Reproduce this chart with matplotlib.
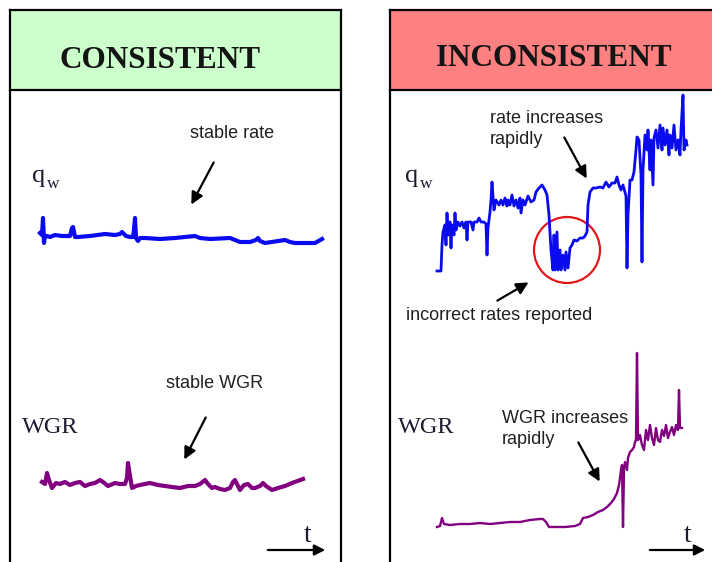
import matplotlib
matplotlib.use('Agg')
import matplotlib.pyplot as plt
from matplotlib.patches import Rectangle, Circle

# ---- data (time index, relative value) ----
# consistent well
cons_qw_t = [0, 2, 3, 4, 5, 7, 10, 15, 22, 30, 32, 33, 35, 38, 50, 65, 75, 80, 82, 86,
             90, 93, 94, 95, 96, 98, 100, 105, 120, 135, 155, 160, 170, 190, 200, 210, 216, 218, 220, 225,
             245, 250, 255, 275, 282]
cons_qw = [17, 15, 32, 7, 14, 14, 13, 15, 14, 14, 22, 23, 13, 13, 14, 16, 15, 16, 18, 14,
           13, 13, 20, 32, 12, 9, 12, 12, 11, 12, 14, 12, 11, 12, 8, 8, 10, 12, 9, 7,
           10, 8, 7, 7, 11]

cons_wgr_t = [0, 3, 5, 7, 10, 14, 18, 23, 28, 33, 38, 43, 48, 53, 58, 61, 66, 73, 78, 83,
              85, 86, 87, 90, 94, 98, 108, 116, 123, 130, 138, 146, 153, 158, 163, 166, 170, 173, 178, 183,
              188, 191, 193, 196, 198, 202, 206, 210, 213, 218, 221, 224, 230, 236, 243, 250, 261]
cons_wgr = [18, 16, 27, 20, 12, 17, 16, 18, 15, 17, 18, 14, 16, 17, 20, 18, 14, 17, 16, 16,
            22, 37, 30, 12, 14, 15, 17, 15, 14, 13, 12, 14, 14, 16, 20, 16, 12, 13, 11, 10,
            12, 18, 20, 14, 10, 15, 16, 12, 12, 14, 17, 14, 10, 12, 14, 17, 21]

# inconsistent well
inc_qw_t = [0, 4, 5, 6, 8, 9, 10, 11, 13, 14, 15, 17, 18, 19, 21, 23, 25, 27, 29, 30,
            31, 34, 36, 37, 40, 42, 44, 47, 49, 50, 51, 53, 54, 55, 57, 59, 62, 64, 66, 68,
            70, 71, 73, 75, 77, 79, 81, 83, 84, 86, 88, 91, 94, 97, 99, 102, 105, 108, 110, 112,
            114, 116, 117, 118, 120, 121, 123, 124, 126, 128, 129, 131, 133, 135, 137, 140, 143, 146, 148, 150,
            151, 153, 156, 159, 163, 166, 169, 172, 175, 178, 180, 182, 184, 186, 189, 190, 191, 193, 195, 197,
            199, 200, 202, 204, 205, 206, 208, 210, 211, 213, 214, 216, 217, 219, 221, 223, 225, 226, 228, 230,
            232, 233, 235, 237, 239, 241, 243, 244, 246, 247, 249, 250]
inc_qw = [9, 9, 35, 48, 55, 35, 67, 45, 58, 32, 55, 45, 67, 50, 58, 54, 58, 52, 58, 40,
          58, 58, 50, 58, 58, 62, 58, 58, 56, 25, 52, 68, 80, 98, 70, 80, 75, 80, 75, 82,
          74, 80, 75, 85, 74, 80, 72, 82, 67, 80, 75, 84, 78, 80, 88, 92, 95, 90, 85, 65,
          30, 10, 45, 10, 48, 10, 30, 10, 25, 10, 28, 12, 32, 35, 40, 39, 42, 42, 44, 48,
          75, 88, 92, 92, 93, 92, 98, 93, 97, 97, 103, 95, 90, 95, 84, 12, 65, 100, 100, 108,
          130, 143, 140, 105, 18, 110, 145, 130, 150, 110, 140, 95, 142, 150, 132, 155, 130, 152, 135, 150,
          125, 145, 132, 155, 130, 140, 125, 150, 185, 130, 140, 135]

inc_wgr_t = [0, 3, 5, 7, 13, 23, 33, 43, 53, 63, 73, 83, 93, 103, 106, 109, 112, 118, 128, 138,
             143, 146, 151, 156, 161, 166, 170, 174, 177, 180, 182, 183, 184, 185, 186, 187, 188, 190, 191, 193,
             195, 197, 198, 199, 200, 201, 203, 205, 207, 209, 211, 213, 215, 217, 219, 221, 223, 225, 227, 229,
             231, 233, 235, 237, 239, 241, 242, 243, 245]
inc_wgr = [3, 4, 12, 6, 5, 6, 6, 7, 6, 7, 8, 8, 10, 11, 11, 8, 3, 3, 3, 4,
           6, 12, 13, 15, 18, 20, 23, 27, 31, 37, 45, 52, 60, 65, 3, 62, 68, 60, 72, 78,
           80, 83, 88, 90, 177, 90, 95, 85, 80, 100, 90, 105, 92, 85, 102, 90, 88, 100, 94, 105,
           92, 98, 103, 95, 105, 100, 140, 102, 102]

W, H = 712, 562
fig = plt.figure(figsize=(W / 100, H / 100), dpi=100)

# background axes in pixel units for the panel layout
bg = fig.add_axes([0, 0, 1, 1])
bg.set_xlim(0, W)
bg.set_ylim(H, 0)
bg.axis('off')

serif = 'Liberation Serif'
sans = 'Liberation Sans'
ink = '#1c1c30'

# panels
for x0, x1, col in [(10, 341, '#ccffcc'), (390, W + 5, '#ff8080')]:
    bg.add_patch(Rectangle((x0, 10), x1 - x0, 80, facecolor=col, edgecolor='none'))
    bg.plot([x0, x0], [10, H + 5], color='black', lw=1.6, clip_on=False)
    bg.plot([x1, x1], [10, H + 5], color='black', lw=1.6, clip_on=False)
    bg.plot([x0, x1], [10, 10], color='black', lw=1.6)
    bg.plot([x0, x1], [90, 90], color='black', lw=1.6)

bg.text(160, 61, 'CONSISTENT', family=serif, weight='bold', fontsize=22.5,
        ha='center', va='center', color='#141414')
bg.text(554, 59, 'INCONSISTENT', family=serif, weight='bold', fontsize=22.5,
        ha='center', va='center', color='#141414')

# axis labels
for xq in [32, 405]:
    bg.text(xq, 182, 'q', family=serif, fontsize=19, ha='left', va='baseline', color=ink)
    bg.text(xq + 15, 188, 'w', family=serif, fontsize=12.5, ha='left', va='baseline', color=ink)
for xw in [22, 398]:
    bg.text(xw, 433, 'WGR', family=serif, fontsize=17.5, ha='left', va='baseline', color=ink)
for xt, (a0, a1) in [(308, (265, 328)), (688, (647, 708))]:
    bg.text(xt, 542, 't', family=serif, fontsize=20, ha='center', va='baseline', color=ink)
    bg.annotate('', xy=(a1, 550), xytext=(a0, 550),
                arrowprops=dict(arrowstyle='-|>', lw=1.6, color='black', mutation_scale=16))

# annotations
arrow = dict(arrowstyle='-|>', lw=1.6, color='black', mutation_scale=18)
fs = 13
bg.text(190, 133, 'stable rate', family=sans, fontsize=fs, ha='left', va='center', color='#202020')
bg.annotate('', xy=(190, 207), xytext=(215, 160), arrowprops=arrow)
bg.text(166, 383, 'stable WGR', family=sans, fontsize=fs, ha='left', va='center', color='#202020')
bg.annotate('', xy=(183, 462), xytext=(207, 415), arrowprops=arrow)
bg.text(490, 129, 'rate increases\nrapidly', family=sans, fontsize=fs, ha='left', va='center',
        color='#202020', linespacing=1.3)
bg.annotate('', xy=(588, 181), xytext=(563, 135), arrowprops=arrow)
bg.text(406, 315, 'incorrect rates reported', family=sans, fontsize=fs, ha='left', va='center',
        color='#202020')
bg.annotate('', xy=(531, 281), xytext=(495, 302), arrowprops=arrow)
bg.text(502, 429, 'WGR increases\nrapidly', family=sans, fontsize=fs, ha='left', va='center',
        color='#202020', linespacing=1.3)
bg.annotate('', xy=(601, 484), xytext=(577, 440), arrowprops=arrow)
bg.add_patch(Circle((567, 250), 33, facecolor='none', edgecolor='#e01818', lw=1.6))


def curve_axes(x0, y_base, w, h):
    # axes with 1 data unit per pixel, origin at (x0, y_base) in picture pixels
    ax = fig.add_axes([x0 / W, (H - y_base) / H, w / W, h / H])
    ax.set_xlim(0, w)
    ax.set_ylim(0, h)
    ax.axis('off')
    ax.patch.set_alpha(0)
    return ax


ax = curve_axes(40, 250, 290, 60)
ax.plot(cons_qw_t, cons_qw, color='#0a0aee', lw=3.0, solid_joinstyle='round', clip_on=False)

ax = curve_axes(42, 500, 270, 60)
ax.plot(cons_wgr_t, cons_wgr, color='#800080', lw=3.0, solid_joinstyle='round', clip_on=False)

ax = curve_axes(437, 280, 260, 200)
ax.plot(inc_qw_t, inc_qw, color='#0a0aee', lw=2.0, clip_on=False)

ax = curve_axes(437, 530, 260, 200)
ax.plot(inc_wgr_t, inc_wgr, color='#800080', lw=1.7, clip_on=False)

fig.savefig('out.png', dpi=100)
